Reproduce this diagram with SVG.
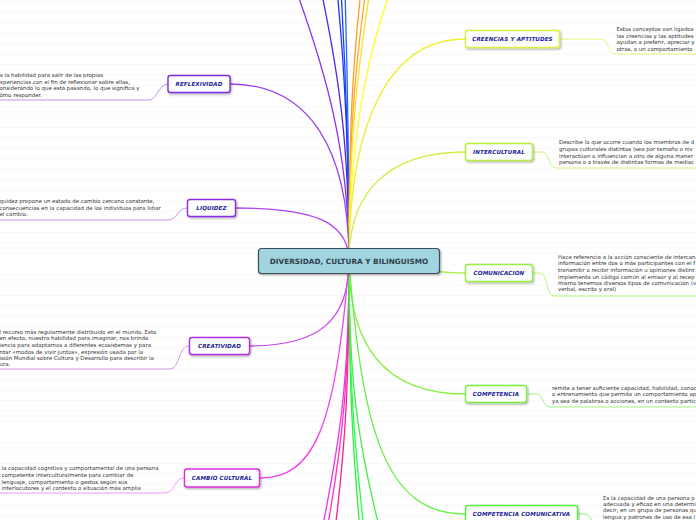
<svg xmlns="http://www.w3.org/2000/svg" width="696" height="520" viewBox="0 0 696 520">
<defs>
<pattern id="stripes" width="696" height="10.5" patternUnits="userSpaceOnUse">
<rect width="696" height="10.5" fill="#ffffff"/>
<rect y="1" width="696" height="0.7" fill="#f5f5f5"/>
</pattern>
<filter id="sh" x="-20%" y="-30%" width="140%" height="170%">
<feDropShadow dx="1" dy="1.2" stdDeviation="0.8" flood-color="#000" flood-opacity="0.35"/>
</filter>
</defs>
<style>
.lbl{font-family:"DejaVu Sans",Verdana,sans-serif;font-size:5.6px;font-weight:bold;font-style:italic;fill:#1c1c96;text-anchor:middle;letter-spacing:0.1px}
.txt{font-family:"DejaVu Sans",Verdana,sans-serif;font-size:5.45px;fill:#333333}
.box{fill:#ffffff;stroke-width:1.4;filter:url(#sh)}
.c{fill:none;stroke-width:1.3}
.u{fill:none;stroke-width:0.9}
</style>
<rect width="696" height="520" fill="url(#stripes)"/>

<g id="connectors">
<path class="c" stroke="#8833ee" d="M349,261 C349,150 325,70 296,-10"/>
<path class="c" stroke="#5522ee" d="M349,261 C349,150 340,80 321,-10"/>
<path class="c" stroke="#2233ff" d="M349,261 C349,150 344,60 337,-10"/>
<path class="c" stroke="#1144ff" stroke-width="1.6" d="M349,261 C349,150 345,60 341,-10"/>
<path class="c" stroke="#2266ff" d="M349,261 C349,150 347,60 345,-10"/>
<path class="c" stroke="#ff9922" d="M349,261 C349,150 351,80 361,-10"/>
<path class="c" stroke="#ffaa22" d="M349,261 C349,150 353,80 366,-10"/>
<path class="c" stroke="#ffdd22" d="M349,261 C349,150 356,80 370,-10"/>
<path class="c" stroke="#ffff22" d="M349,261 C349,150 365,60 391,-10"/>
<path class="c" stroke="#ee33ee" d="M349,261 C349,380 340,440 322,530"/>
<path class="c" stroke="#ff33bb" d="M349,261 C349,380 343,440 327,530"/>
<path class="c" stroke="#ff2288" d="M349,261 C349,380 346,440 335,530"/>
<path class="c" stroke="#33ee33" d="M349,261 C349,380 352,440 360,530"/>
<path class="c" stroke="#22ff55" d="M349,261 C349,380 354,440 364,530"/>
<path class="c" stroke="#44ee44" d="M349,261 C349,380 357,440 380,530"/>
<path class="c" stroke="#9a44ee" d="M349,261 C349,150 310,84 230,84"/>
<path class="c" stroke="#b044ee" d="M349,261 C349,220 310,208 236,208"/>
<path class="c" stroke="#cc44ee" d="M349,261 C349,320 320,346 249,346"/>
<path class="c" stroke="#ee44ee" d="M349,261 C336,430 313,478 260,478"/>
<path class="c" stroke="#eeee33" d="M349,261 C349,120 390,39 465,39"/>
<path class="c" stroke="#ccf044" d="M349,261 C349,190 390,152 465,152"/>
<path class="c" stroke="#aaf044" d="M349,261 C380,261 420,273 465,273"/>
<path class="c" stroke="#88f044" d="M349,261 C349,340 380,394 465,394"/>
<path class="c" stroke="#66f044" d="M349,261 C362,430 385,514 465,514"/>
<path class="u" stroke="#b88ae8" d="M168,84 C158,84 158,100 148,100 L0,100"/>
<path class="u" stroke="#c58ae8" d="M187,208 C177,208 178,220 168,220 L0,220"/>
<path class="u" stroke="#d58ae8" d="M189,346 C178,346 180,369 170,369 L0,369"/>
<path class="u" stroke="#f08af0" d="M184,478 C174,478 175,493 165,493 L0,493"/>
<path class="u" stroke="#e8f070" d="M560,39 L600,39 C610,39 607,54 615,54 L696,54"/>
<path class="u" stroke="#c8f070" d="M533,152 L542,152 C550,152 548,168 556,168 L696,168"/>
<path class="u" stroke="#b0f070" d="M533,273 L540,273 C548,273 546,296 554,296 L696,296"/>
<path class="u" stroke="#98f070" d="M527,394 L536,394 C544,394 542,407 550,407 L696,407"/>
<path class="u" stroke="#80f070" d="M578,514 L585,514 C592,514 590,524 598,524 L696,524"/>
</g>

<g id="center">
<rect x="258.5" y="248.5" width="181" height="25" rx="3" fill="#a3d5e1" stroke="#3d4d58" stroke-width="1.2" filter="url(#sh)"/>
<text x="349" y="263.7" font-family="DejaVu Sans,Verdana,sans-serif" font-size="7.3" font-weight="bold" fill="#2e3f4c" text-anchor="middle">DIVERSIDAD, CULTURA Y BILINGUISMO</text>
</g>

<g id="reflexividad">
<rect class="box" x="168" y="75.5" width="62" height="17" rx="2.5" stroke="#7a2ee0"/>
<text class="lbl" x="199" y="86">REFLEXIVIDAD</text>
<text class="txt"><tspan x="-3.5" y="77.3">Es la habilidad para salir de las propias</tspan><tspan x="-3.5" y="83.8">experiencias con el fin de reflexionar sobre ellas,</tspan><tspan x="-3.5" y="90.3">considerando lo que está pasando, lo que significa y</tspan><tspan x="-3.5" y="96.7">cómo responder.</tspan></text>
</g>

<g id="liquidez">
<rect class="box" x="187.5" y="199.5" width="48" height="17" rx="2.5" stroke="#8a2ee6"/>
<text class="lbl" x="211.5" y="210">LIQUIDEZ</text>
<text class="txt"><tspan x="-0.5" y="203">quidez propone un estado de cambio cercano constante,</tspan><tspan x="-0.5" y="209.6">consecuencias en la capacidad de los individuos para lidiar</tspan><tspan x="-0.5" y="216.2">el cambio.</tspan></text>
</g>

<g id="creatividad">
<rect class="box" x="189.5" y="337.5" width="60" height="17" rx="2.5" stroke="#b02ee6"/>
<text class="lbl" x="219.5" y="348">CREATIVIDAD</text>
<text class="txt"><tspan x="-0.5" y="333.5">l recurso más regularmente distribuido en el mundo. Esto</tspan><tspan x="-0.5" y="340.2">en efecto, nuestra habilidad para imaginar, nos brinda</tspan><tspan x="-0.5" y="346.9">iencia para adaptarnos a diferentes ecosistemas y para</tspan><tspan x="-0.5" y="353.6">ntar «modos de vivir juntos», expresión usada por la</tspan><tspan x="-0.5" y="360.2">isión Mundial sobre Cultura y Desarrollo para describir la</tspan><tspan x="-0.5" y="366.2">ura.</tspan></text>
</g>

<g id="cambio-cultural">
<rect class="box" x="184.5" y="469" width="75" height="18" rx="2.5" stroke="#e02ee0"/>
<text class="lbl" x="222" y="480">CAMBIO CULTURAL</text>
<text class="txt"><tspan x="1.5" y="470.2">la capacidad cognitiva y comportamental de una persona</tspan><tspan x="1.5" y="476.9">competente interculturalmente para cambiar de</tspan><tspan x="1.5" y="483.6">lenguaje, comportamiento o gestos según sus</tspan><tspan x="1.5" y="490.2">interlocutores y el contexto o situación más amplia</tspan></text>
</g>

<g id="creencias-y-aptitudes">
<rect class="box" x="465.5" y="30.5" width="94" height="17" rx="2.5" stroke="#d8f040"/>
<text class="lbl" x="512.5" y="41">CREENCIAS Y APTITUDES</text>
<text class="txt"><tspan x="616.5" y="30.9">Estos conceptos van ligados</tspan><tspan x="616.5" y="37.6">las creencias y las aptitudes</tspan><tspan x="616.5" y="44.2">ayudan a preferir, apreciar y</tspan><tspan x="616.5" y="50.9">otras, o un comportamiento</tspan></text>
</g>

<g id="intercultural">
<rect class="box" x="465.5" y="143.5" width="67" height="17" rx="2.5" stroke="#b4f040"/>
<text class="lbl" x="499" y="154">INTERCULTURAL</text>
<text class="txt"><tspan x="559" y="144.2">Describe lo que ocurre cuando los miembros de d</tspan><tspan x="559" y="150.9">grupos culturales distintos  (sea por tamaño o niv</tspan><tspan x="559" y="157.6">interactúan o influencian  a otro de alguna maner</tspan><tspan x="559" y="164.2">persona o a través de distintas formas de mediac</tspan></text>
</g>

<g id="comunicacion">
<rect class="box" x="465.5" y="264.5" width="67" height="17" rx="2.5" stroke="#98f040"/>
<text class="lbl" x="499" y="275">COMUNICACION</text>
<text class="txt"><tspan x="558" y="258.6">Hace referencia a la acción consciente de intercan</tspan><tspan x="558" y="265.2">información entre dos o más participantes con el f</tspan><tspan x="558" y="271.9">transmitir o recibir información u opiniones distint</tspan><tspan x="558" y="278.6">implementa un código común al emisor y al recep</tspan><tspan x="558" y="285.2">mismo tenemos diversos tipos de comunicación (v</tspan><tspan x="558" y="291.2">verbal, escrita y oral)</tspan></text>
</g>

<g id="competencia">
<rect class="box" x="465.5" y="385.5" width="61" height="17" rx="2.5" stroke="#78f040"/>
<text class="lbl" x="496" y="396">COMPETENCIA</text>
<text class="txt"><tspan x="552" y="389.6">remite a tener suﬁciente capacidad, habilidad, conoc</tspan><tspan x="552" y="396.2">o entrenamiento que permita un comportamiento ap</tspan><tspan x="552" y="402.9">ya sea de palabras o acciones, en un contexto partic</tspan></text>
</g>

<g id="competencia-comunicativa">
<rect class="box" x="465.5" y="505.5" width="112" height="17" rx="2.5" stroke="#58f040"/>
<text class="lbl" x="521.5" y="516">COMPETENCIA COMUNICATIVA</text>
<text class="txt"><tspan x="603" y="499.6">Es la capacidad de una persona p</tspan><tspan x="603" y="505.9">adecuada y eficaz en una determi</tspan><tspan x="603" y="511.9">decir, en un grupo de personas qu</tspan><tspan x="603" y="518.6">lengua y patrones de uso de esa l</tspan></text>
</g>
</svg>
